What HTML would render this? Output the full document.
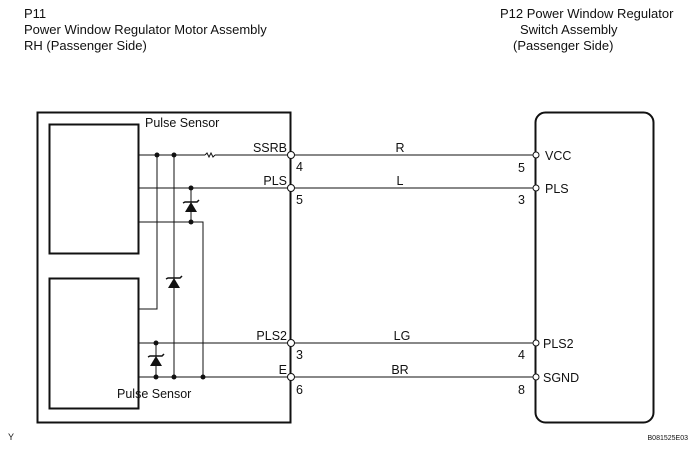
<!DOCTYPE html>
<html><head><style>
body{margin:0;background:#fff;}
svg{display:block;font-family:"Liberation Sans",Arial,sans-serif;}
</style></head><body>
<svg width="696" height="462" viewBox="0 0 696 462" xmlns="http://www.w3.org/2000/svg">
<g font-size="13" fill="#111">
<text x="24" y="18">P11</text>
<text x="24" y="34">Power Window Regulator Motor Assembly</text>
<text x="24" y="50">RH (Passenger Side)</text>
<text x="500" y="18">P12 Power Window Regulator</text>
<text x="520" y="34">Switch Assembly</text>
<text x="513" y="50">(Passenger Side)</text>
</g>
<g fill="none" stroke="#111">
<rect x="37.5" y="112.5" width="253" height="310" stroke-width="2"/>
<rect x="535.5" y="112.5" width="118" height="310" rx="10" stroke-width="2"/>
<rect x="49.5" y="124.5" width="89" height="129" stroke-width="2"/>
<rect x="49.5" y="278.5" width="89" height="130" stroke-width="2"/>
<g stroke-width="1">
<line x1="138" y1="155" x2="205" y2="155"/>
<polyline points="205,155 207,153 209,157 211,153 213,157 215,155"/>
<line x1="215" y1="155" x2="535" y2="155"/>
<line x1="138" y1="188" x2="535" y2="188"/>
<line x1="138" y1="343" x2="535" y2="343"/>
<line x1="138" y1="377" x2="535" y2="377"/>
<polyline points="157,155 157,309 138,309"/>
<line x1="174" y1="155" x2="174" y2="377"/>
<line x1="191" y1="188" x2="191" y2="222"/>
<polyline points="138,222 203,222 203,377"/>
<line x1="156" y1="343" x2="156" y2="377"/>
</g>
</g>
<g fill="#111">
<circle cx="157" cy="155" r="2.5"/><circle cx="174" cy="155" r="2.5"/>
<circle cx="191" cy="188" r="2.5"/><circle cx="191" cy="222" r="2.5"/>
<circle cx="156" cy="343" r="2.5"/><circle cx="156" cy="377" r="2.5"/>
<circle cx="174" cy="377" r="2.5"/><circle cx="203" cy="377" r="2.5"/>
<polygon points="185,212 197,212 191,202"/>
<polygon points="168,288 180,288 174,278"/>
<polygon points="150,366 162,366 156,356"/>
</g>
<g stroke="#111" stroke-width="1.5" fill="none">
<polyline points="183,203 185,202 197,202 199,200"/>
<polyline points="166,279 168,278 180,278 182,276"/>
<polyline points="148,357 150,356 162,356 164,354"/>
</g>
<g fill="#fff" stroke="#111" stroke-width="1">
<circle cx="291" cy="155" r="3.5"/><circle cx="291" cy="188" r="3.5"/>
<circle cx="291" cy="343" r="3.5"/><circle cx="291" cy="377" r="3.5"/>
<circle cx="536" cy="155" r="3"/><circle cx="536" cy="188" r="3"/>
<circle cx="536" cy="343" r="3"/><circle cx="536" cy="377" r="3"/>
</g>
<g font-size="12.5" fill="#111">
<text x="145" y="127">Pulse Sensor</text>
<text x="117" y="398">Pulse Sensor</text>
<text x="287" y="152" text-anchor="end">SSRB</text>
<text x="287" y="185" text-anchor="end">PLS</text>
<text x="287" y="340" text-anchor="end">PLS2</text>
<text x="287" y="374" text-anchor="end">E</text>
<text x="296" y="171">4</text><text x="296" y="204">5</text>
<text x="296" y="359">3</text><text x="296" y="394">6</text>
<text x="400" y="152" text-anchor="middle">R</text>
<text x="400" y="185" text-anchor="middle">L</text>
<text x="402" y="340" text-anchor="middle">LG</text>
<text x="400" y="374" text-anchor="middle">BR</text>
<text x="518" y="172">5</text><text x="518" y="204">3</text>
<text x="518" y="359">4</text><text x="518" y="394">8</text>
<text x="545" y="160">VCC</text>
<text x="545" y="193">PLS</text>
<text x="543" y="348">PLS2</text>
<text x="543" y="382">SGND</text>
<text x="8" y="440" font-size="9">Y</text>
<text x="688" y="440" font-size="7" text-anchor="end">B081525E03</text>
</g>
</svg>
</body></html>
